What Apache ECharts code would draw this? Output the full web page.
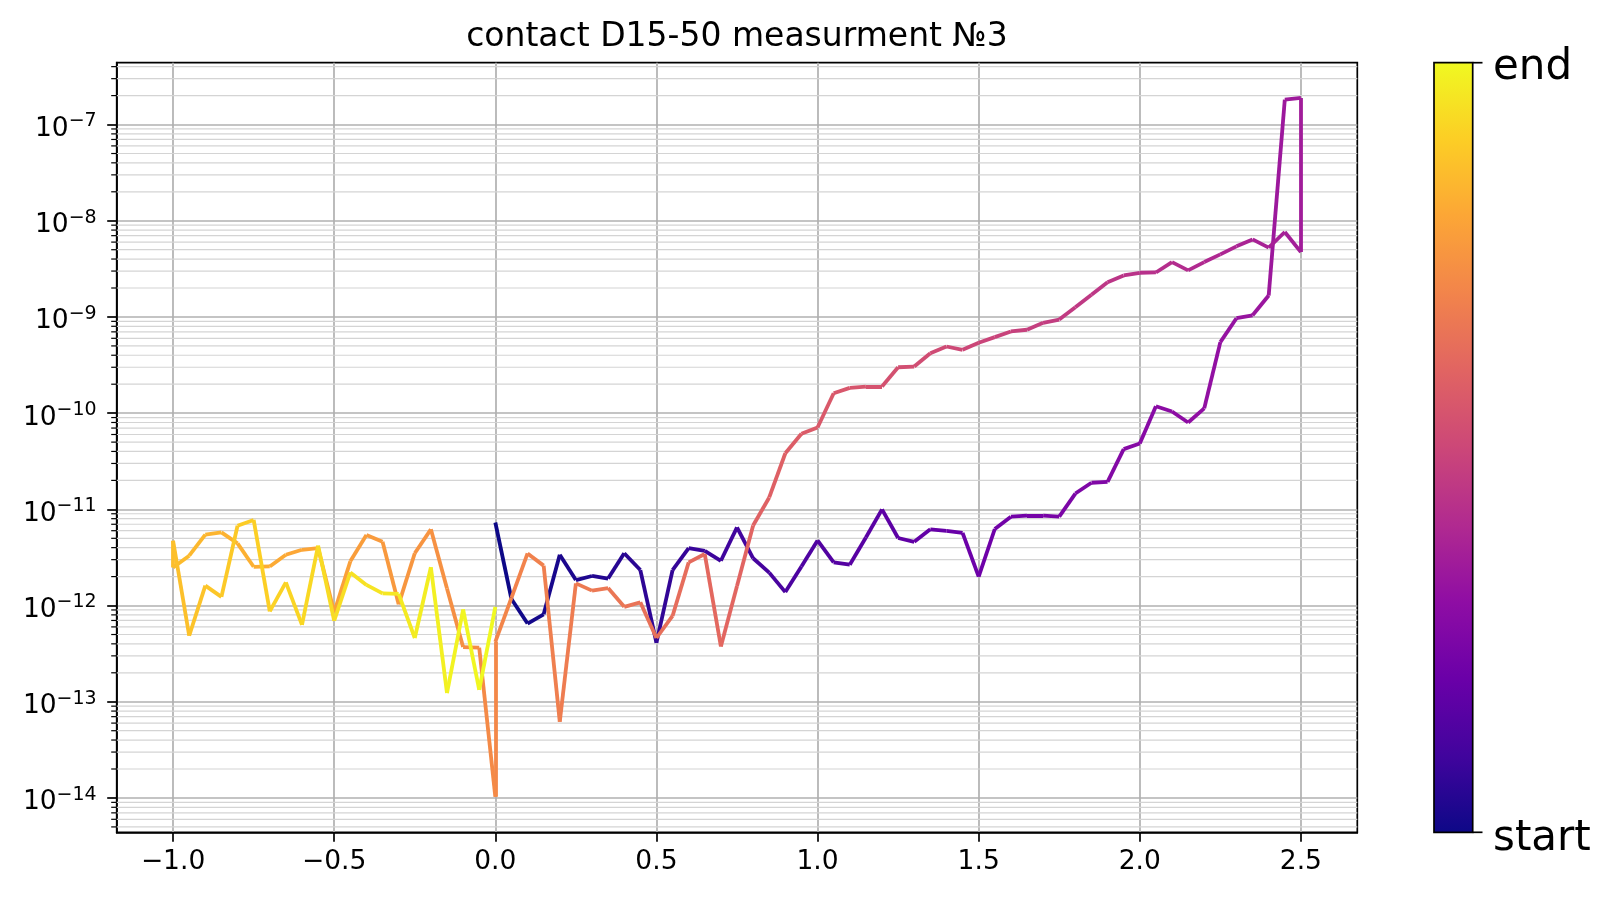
<!DOCTYPE html>
<html>
<head>
<meta charset="utf-8">
<script src="https://cdn.jsdelivr.net/npm/echarts@6/dist/echarts.min.js"></script>
<style>
  html, body { margin: 0; padding: 0; background: #fff; }
  #chart { width: 1609px; height: 900px; }
</style>
</head>
<body>
<div id="chart"></div>
<script>
// sweep 0 -> 2.5 V
var upX = [0, 0.05, 0.1, 0.15, 0.2, 0.25, 0.3, 0.35, 0.4, 0.45, 0.5, 0.55, 0.6, 0.65, 0.7, 0.75, 0.8, 0.85, 0.9, 0.95,
  1.0, 1.05, 1.1, 1.15, 1.2, 1.25, 1.3, 1.35, 1.4, 1.45, 1.5, 1.55, 1.6, 1.65, 1.7, 1.75, 1.8, 1.85, 1.9, 1.95,
  2.0, 2.05, 2.1, 2.15, 2.2, 2.25, 2.3, 2.35, 2.4, 2.45, 2.5];
var upI = [7.3e-12, 1.17e-12, 6.5e-13, 8.1e-13, 3.37e-12, 1.84e-12, 2.03e-12, 1.91e-12, 3.5e-12, 2.34e-12,
  4.1e-13, 2.34e-12, 3.96e-12, 3.7e-12, 2.92e-12, 6.5e-12, 3.1e-12, 2.2e-12, 1.38e-12, 2.55e-12,
  4.75e-12, 2.81e-12, 2.66e-12, 5.1e-12, 1.0e-11, 5.04e-12, 4.6e-12, 6.2e-12, 5.96e-12, 5.7e-12,
  2.0e-12, 6.25e-12, 8.4e-12, 8.6e-12, 8.6e-12, 8.4e-12, 1.46e-11, 1.89e-11, 1.93e-11, 4.23e-11,
  4.84e-11, 1.18e-10, 1.04e-10, 8.0e-11, 1.12e-10, 5.47e-10, 9.7e-10, 1.04e-9, 1.67e-9, 1.82e-7, 1.89e-7];

// sweep 2.5 -> 0 V
var downX = [2.5, 2.45, 2.4, 2.35, 2.3, 2.25, 2.2, 2.15, 2.1, 2.05, 2.0, 1.95, 1.9, 1.85, 1.8, 1.75, 1.7, 1.65, 1.6, 1.55,
  1.5, 1.45, 1.4, 1.35, 1.3, 1.25, 1.2, 1.15, 1.1, 1.05, 1.0, 0.95, 0.9, 0.85, 0.8, 0.75, 0.7, 0.65, 0.6, 0.55,
  0.5, 0.45, 0.4, 0.35, 0.3, 0.25, 0.2, 0.15, 0.1, 0.05, 0];
var downI = [4.72e-9, 7.64e-9, 5.25e-9, 6.4e-9, 5.42e-9, 4.47e-9, 3.72e-9, 3.05e-9, 3.72e-9, 2.9e-9,
  2.88e-9, 2.7e-9, 2.3e-9, 1.7e-9, 1.26e-9, 9.4e-10, 8.7e-10, 7.36e-10, 7.07e-10, 6.17e-10,
  5.39e-10, 4.56e-10, 4.93e-10, 4.2e-10, 3.05e-10, 3.0e-10, 1.89e-10, 1.89e-10, 1.83e-10, 1.61e-10,
  7.1e-11, 6.1e-11, 3.83e-11, 1.33e-11, 6.8e-12, 1.6e-12, 3.75e-13, 3.43e-12, 2.81e-12, 7.8e-13,
  4.6e-13, 1.08e-12, 9.7e-13, 1.52e-12, 1.43e-12, 1.7e-12, 6.2e-14, 2.6e-12, 3.48e-12, 1.2e-12, 4.2e-13];

// sweep 0 -> -1 V
var negX = [0, -0.05, -0.1, -0.15, -0.2, -0.25, -0.3, -0.35, -0.4, -0.45, -0.5, -0.55, -0.6, -0.65, -0.7, -0.75,
  -0.8, -0.85, -0.9, -0.95, -1.0];
var negI = [1.03e-14, 3.65e-13, 3.7e-13, 1.5e-12, 6.2e-12, 3.5e-12, 1.03e-12, 4.6e-12, 5.4e-12, 2.88e-12,
  8.5e-13, 3.96e-12, 3.8e-12, 3.37e-12, 2.55e-12, 2.53e-12, 4.43e-12, 5.77e-12, 5.46e-12, 3.3e-12, 2.49e-12];

// sweep -1 -> 0 V
var backX = [-1.0, -0.95, -0.9, -0.85, -0.8, -0.75, -0.7, -0.65, -0.6, -0.55, -0.5, -0.45, -0.4, -0.35, -0.3,
  -0.25, -0.2, -0.15, -0.1, -0.05, 0];
var backI = [4.72e-12, 4.85e-13, 1.61e-12, 1.23e-12, 6.76e-12, 7.76e-12, 8.7e-13, 1.74e-12, 6.3e-13, 4.19e-12,
  6.95e-13, 2.21e-12, 1.64e-12, 1.34e-12, 1.32e-12, 4.6e-13, 2.5e-12, 1.23e-13, 9.1e-13, 1.33e-13, 9.7e-13];

var xTicks = [-1.0, -0.5, 0, 0.5, 1.0, 1.5, 2.0, 2.5];
var yDecades = [-14, -13, -12, -11, -10, -9, -8, -7];

var xMin = -1.175, xMax = 2.675;
var yMin = -14.357, yMax = -6.357;

// plasma colormap
var plasmaStops = ['#0d0887', '#41049d', '#6a00a8', '#8f0da4', '#b12a90', '#cc4778',
  '#e16462', '#f2844b', '#fca636', '#fcce25', '#f0f921'];

function hexRgb(h) {
  return [parseInt(h.substr(1, 2), 16), parseInt(h.substr(3, 2), 16), parseInt(h.substr(5, 2), 16)];
}
function plasma(t) {
  var p = t * (plasmaStops.length - 1);
  var i = Math.min(Math.floor(p), plasmaStops.length - 2);
  var f = p - i;
  var a = hexRgb(plasmaStops[i]), b = hexRgb(plasmaStops[i + 1]);
  var c = a.map(function (v, k) { return Math.round(v + (b[k] - v) * f); });
  return 'rgb(' + c.join(',') + ')';
}

var voltage = [].concat(upX, downX, negX, backX);
var current = [].concat(upI, downI, negI, backI);

var segments = [];
for (var i = 0; i < voltage.length - 1; i++) {
  segments.push({
    coords: [[voltage[i], Math.log10(current[i])], [voltage[i + 1], Math.log10(current[i + 1])]],
    lineStyle: { color: plasma(i / (voltage.length - 2)) }
  });
}

// minor log gridlines (2..9 x 10^n)
var minorLogs = [];
for (var n = -15; n <= -7; n++) {
  for (var k = 2; k <= 9; k++) {
    var v = n + Math.log10(k);
    if (v > yMin && v < yMax) minorLogs.push([xMin, v]);
  }
}

var font = 'DejaVu Sans';
var cbStops = plasmaStops.map(function (c, idx) {
  return { offset: 1 - idx / (plasmaStops.length - 1), color: c };
});

var myChart = echarts.init(document.getElementById('chart'));
var option = {
  backgroundColor: '#fff',
  animation: false,
  title: {
    text: 'contact D15-50 measurment №3',
    left: 737,
    textAlign: 'center',
    top: 21,
    padding: 0,
    textStyle: { fontFamily: font, fontSize: 33, fontWeight: 'normal', color: '#000' }
  },
  grid: {
    left: 116.7, right: 251.7, top: 62.7, bottom: 67.7,
    show: true, borderColor: '#000', borderWidth: 1.7, backgroundColor: 'transparent'
  },
  xAxis: {
    type: 'value',
    min: xMin, max: xMax,
    splitNumber: 8,
    axisLine: { show: true, onZero: false, lineStyle: { color: '#000', width: 1.7 } },
    axisTick: { show: true, length: 9.5, customValues: xTicks, lineStyle: { color: '#000', width: 1.7 } },
    axisLabel: {
      customValues: xTicks,
      fontFamily: font, fontSize: 26.5, color: '#000', margin: 16,
      formatter: function (v) { return v.toFixed(1).replace('-', '\u2212'); }
    },
    splitLine: { show: true, lineStyle: { color: '#b0b0b0', width: 1.7 } }
  },
  yAxis: {
    type: 'value',
    min: yMin, max: yMax,
    splitNumber: 8,
    axisLine: { show: true, onZero: false, lineStyle: { color: '#000', width: 1.7 } },
    axisTick: { show: true, length: 9.5, customValues: yDecades, lineStyle: { color: '#000', width: 1.7 } },
    axisLabel: {
      customValues: yDecades,
      margin: 20,
      padding: [9, 0, 0, 0],
      formatter: function (v) {
        return '{b|10}{s|\u2212' + Math.abs(Math.round(v)) + '}';
      },
      rich: {
        b: { fontFamily: font, fontSize: 26.5, color: '#000' },
        s: { fontFamily: font, fontSize: 19, color: '#000', padding: [0, 0, 15, 0] }
      }
    },
    splitLine: { show: true, lineStyle: { color: '#b0b0b0', width: 1.7 } }
  },
  series: [
    {
      type: 'custom',
      silent: true,
      z: 1,
      clip: false,
      encode: { x: 0, y: 1 },
      data: minorLogs,
      renderItem: function (params, api) {
        var cs = params.coordSys;
        var y = api.coord([api.value(0), api.value(1)])[1];
        return {
          type: 'group',
          children: [
            { type: 'line', shape: { x1: cs.x, y1: y, x2: cs.x + cs.width, y2: y },
              style: { stroke: '#d4d4d4', lineWidth: 1.2 } },
            { type: 'line', shape: { x1: cs.x - 5.5, y1: y, x2: cs.x, y2: y },
              style: { stroke: '#000', lineWidth: 1.2 } }
          ]
        };
      }
    },
    {
      type: 'lines',
      coordinateSystem: 'cartesian2d',
      silent: true,
      z: 3,
      lineStyle: { width: 3.8, opacity: 1, curveness: 0, cap: 'butt' },
      data: segments
    }
  ],
  graphic: [
    {
      type: 'rect',
      shape: { x: 1434, y: 62.7, width: 38.7, height: 769.6 },
      style: {
        fill: { type: 'linear', x: 0, y: 0, x2: 0, y2: 1, colorStops: cbStops.slice().reverse() },
        stroke: '#000', lineWidth: 1.7
      }
    },
    { type: 'line', shape: { x1: 1472.7, y1: 62.7, x2: 1482.5, y2: 62.7 }, style: { stroke: '#000', lineWidth: 1.7 } },
    { type: 'line', shape: { x1: 1472.7, y1: 832.3, x2: 1482.5, y2: 832.3 }, style: { stroke: '#000', lineWidth: 1.7 } },
    {
      type: 'text', x: 1493, y: 68.5,
      style: { text: 'end', font: '42px "DejaVu Sans"', fill: '#000', verticalAlign: 'middle', align: 'left' }
    },
    {
      type: 'text', x: 1493, y: 839,
      style: { text: 'start', font: '42px "DejaVu Sans"', fill: '#000', verticalAlign: 'middle', align: 'left' }
    }
  ]
};
myChart.setOption(option);
</script>
</body>
</html>
